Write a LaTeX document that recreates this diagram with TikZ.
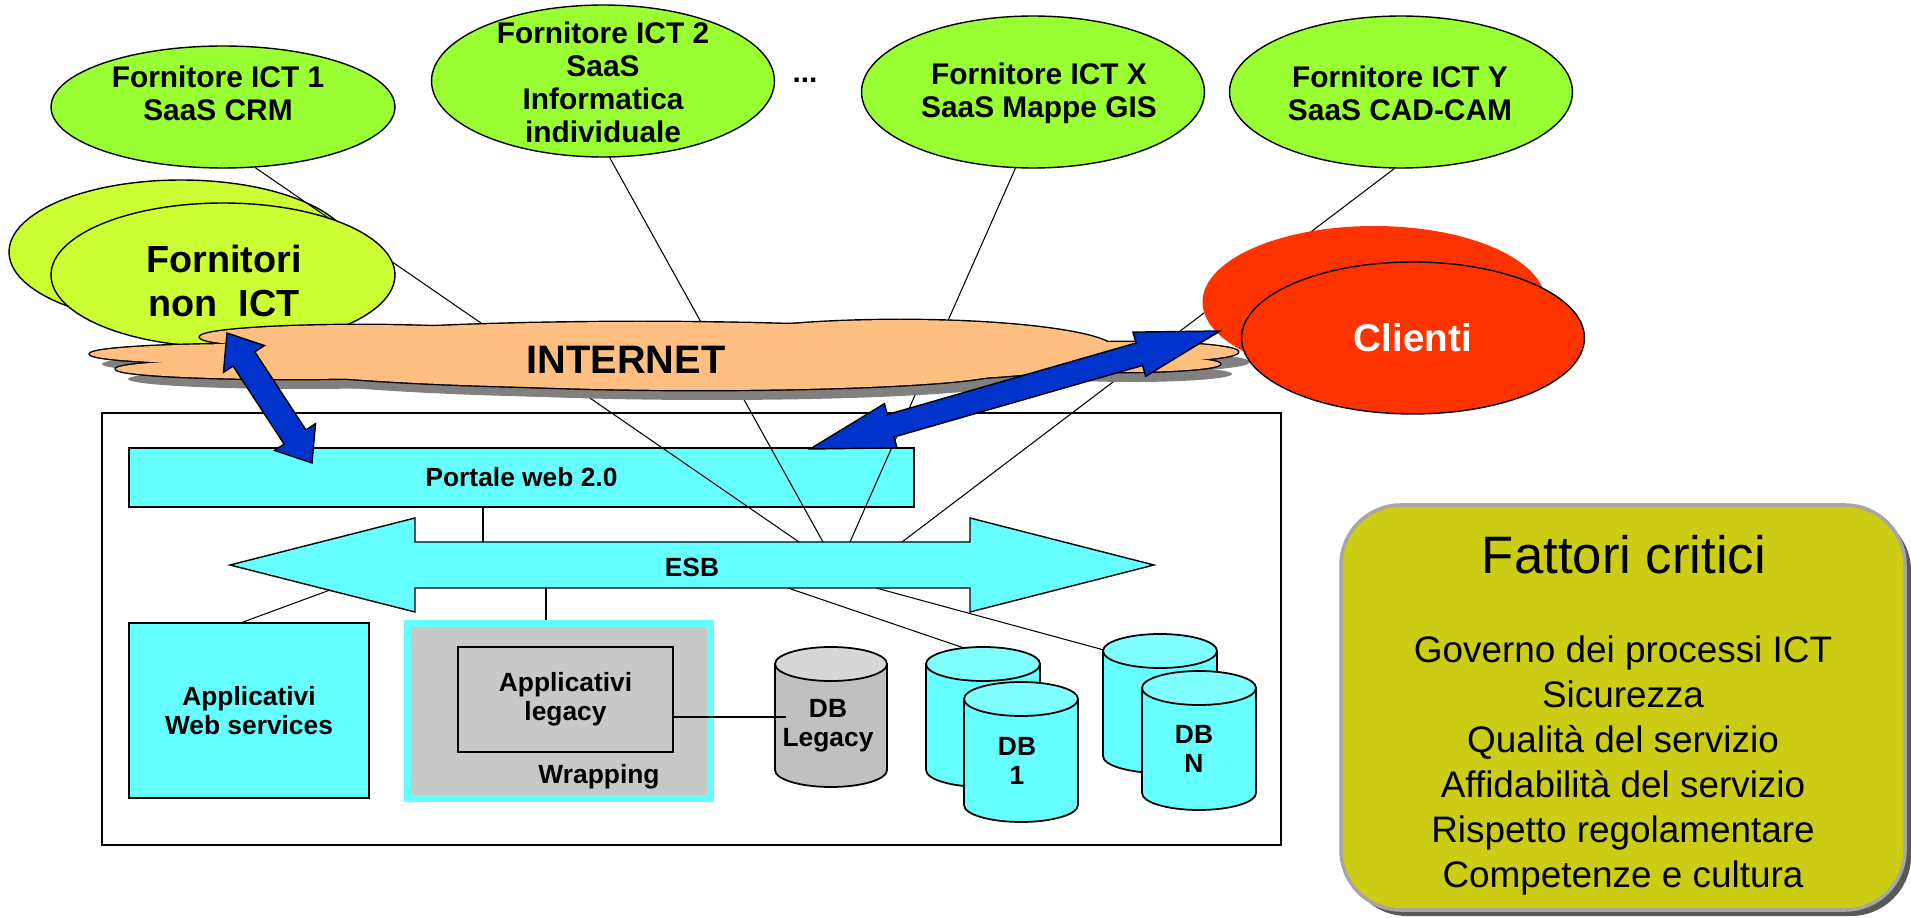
\documentclass[tikz,border=0pt]{standalone}
\usepackage{fontspec}
\setmainfont{Liberation Sans}
\usetikzlibrary{calc,shapes.geometric}

\definecolor{ictgreen}{RGB}{153,255,51}
\definecolor{forngreen}{RGB}{204,255,51}
\definecolor{clientired}{RGB}{255,51,0}
\definecolor{netpeach}{RGB}{255,191,128}
\definecolor{netshadow}{RGB}{128,128,128}
\definecolor{esbcyan}{RGB}{102,255,255}
\definecolor{cyltop}{RGB}{128,255,255}
\definecolor{wrapgray}{RGB}{200,200,200}
\definecolor{dbgray}{RGB}{192,192,192}
\definecolor{dbgraytop}{RGB}{215,215,215}
\definecolor{arrowblue}{RGB}{0,51,204}
\definecolor{fattorifill}{RGB}{204,204,20}

% database cylinder: name, left x, width, top y, bottom y, body colour, top colour
\newcommand{\dbcyl}[7]{%
\filldraw[cylline, fill=#6] (#2,#4+17) -- (#2,#5-17) arc[start angle=180, end angle=0, x radius=#3/2, y radius=17] -- (#2+#3,#4+17) -- cycle;
\filldraw[cylline, fill=#7] (#2+#3/2,#4+17) ellipse[x radius=#3/2, y radius=17];
\coordinate (#1) at (#2+#3/2,#4);}

% double block arrow between two tips: head length, head half width, shaft half width
\newcommand{\blockarrow}[5]{%
\coordinate (ha) at ($(#1)!#3!(#2)$);
\coordinate (hb) at ($(#2)!#3!(#1)$);
\draw[bluearrow] (#1) -- ($(ha)!#4!90:(#2)$) -- ($(ha)!#5!90:(#2)$) -- ($(hb)!#5!-90:(#1)$) -- ($(hb)!#4!-90:(#1)$) -- (#2)
  -- ($(hb)!#4!90:(#1)$) -- ($(hb)!#5!90:(#1)$) -- ($(ha)!#5!-90:(#2)$) -- ($(ha)!#4!-90:(#2)$) -- cycle;}

% lobes of the internet cloud: x/y/x radius/y radius
\newcommand{\netlobes}{250/354/160/10, 290/369/174/10, 360/337/160/12, 640/355/420/33, 900/350/215/30, 700/372/300/18, 1130/352/108/10, 1120/364/100/8}

\tikzset{
  conn/.style={line width=0.6pt},
  ictell/.style={ellipse, draw, line width=0.8pt, fill=ictgreen, inner sep=0pt, minimum width=6.86cm, minimum height=3.04cm},
  fornell/.style={ellipse, draw, line width=0.8pt, fill=forngreen, inner sep=0pt, minimum width=6.88cm, minimum height=2.88cm},
  ictlbl/.style={font=\bfseries\fontsize{17}{18.8}\selectfont, align=center, inner sep=0pt},
  boxlbl/.style={font=\bfseries\fontsize{15}{16.5}\selectfont, align=center, inner sep=0pt},
  cyanbox/.style={draw, line width=0.8pt, fill=esbcyan, inner sep=0pt},
  cylline/.style={line width=1pt},
  bluearrow/.style={draw, line width=0.8pt, fill=arrowblue, line join=miter},
  titlelbl/.style={font=\fontsize{30}{34}\selectfont, align=center, inner sep=0pt},
  listlbl/.style={font=\fontsize{21}{25.6}\selectfont, align=center, inner sep=0pt},
}

\begin{document}
\begin{tikzpicture}[x=0.02cm, y=-0.02cm]
\useasboundingbox (0,0) rectangle (1911,918);
\fill[white] (0,0) rectangle (1911,918);

%system box
\node[draw, line width=0.8pt, inner sep=0pt, minimum width=23.58cm, minimum height=8.64cm] (sysbox) at (691.5,629) {};

%portal and bus
\node[cyanbox, boxlbl, minimum width=15.7cm, minimum height=1.18cm] (portale) at (521.5,477.5) {Portale web 2.0};
\draw[cyanbox] (230,565) -- (415,518) -- (415,542) -- (970,542) -- (970,518) -- (1154,565) -- (970,612) -- (970,588) -- (415,588) -- (415,612) -- cycle;
\node[boxlbl] (esb) at (692,567) {ESB};
\coordinate (esbp) at (483,542);
\coordinate (esbws) at (330,590);
\coordinate (esbwr) at (546,588);
\coordinate (esbd1) at (788,588);
\coordinate (esbdn) at (876,588);
\coordinate (esbt1) at (799,542);
\coordinate (esbt2) at (823,542);
\coordinate (esbt3) at (850,542);
\coordinate (esbt4) at (902,542);

%applications
\node[cyanbox, boxlbl, minimum width=4.8cm, minimum height=3.5cm] (apws) at (249,710.5) {Applicativi\\Web services};
\node[draw=esbcyan, line width=4pt, fill=wrapgray, inner sep=0pt, minimum width=6.06cm, minimum height=3.5cm] (wrap) at (559,711) {};
\node[draw, line width=0.8pt, fill=wrapgray, boxlbl, minimum width=4.3cm, minimum height=2.1cm] (applegacy) at (565.5,699.5) {Applicativi\\legacy};
\node[boxlbl] (wraplbl) at (599,777) {Wrapping};

%links to the bus
\coordinate (db1top) at (964,648);
\coordinate (dbntop) at (1104,650);
\coordinate (dblx) at (786,717);
\draw[conn] (portale.south -| esbp) -- (esbp);
\draw[conn] (esbws) -- ($(apws.north west)+(114,0)$);
\draw[conn] (esbwr) -- (esbwr |- wrap.north);
\draw[conn] (esbd1) -- (db1top);
\draw[conn] (esbdn) -- (dbntop);

%databases
\dbcyl{db1back}{926}{114}{647}{787}{esbcyan}{cyltop}
\dbcyl{db1}{964}{114}{682}{822}{esbcyan}{cyltop}
\dbcyl{dbnback}{1103}{114}{634}{773}{esbcyan}{cyltop}
\dbcyl{dbn}{1142}{114}{671}{810}{esbcyan}{cyltop}
\dbcyl{dbleg}{775}{112}{647}{787}{dbgray}{dbgraytop}
\draw[line width=0.8pt] (applegacy.east |- dblx) -- (dblx);
\node[boxlbl] (dbleglbl) at (828,726) {DB\\Legacy};
\node[boxlbl] (db1lbl) at (1017,761) {DB\\1};
\node[boxlbl] (dbnlbl) at (1194,749) {DB\\N};

%suppliers
\node[ictell, minimum width=6.88cm, minimum height=2.44cm] (ict1) at (223,107) {};
\node[ictell] (ict2) at (603,81) {};
\node[ictell] (ictx) at (1033,92) {};
\node[ictell] (icty) at (1401,92) {};
\node[fornell] (fornback) at (181,252) {};
\draw[conn] (ict1.-62) -- (esbt1);
\draw[conn] (ict2.-85) -- (esbt2);
\draw[conn] (ictx.-103) -- (esbt3);
\draw[conn] (icty.-95) -- (esbt4);
\node[fornell] (forn) at (223,275) {};
\node[ellipse, fill=clientired, inner sep=0pt, minimum width=6.86cm, minimum height=3.04cm] (clientiback) at (1374,302) {};

%internet cloud
\foreach \cx/\cy/\rx/\ry in \netlobes
  \fill[netshadow] (\cx+12,\cy+10) ellipse[x radius=\rx, y radius=\ry];
\foreach \cx/\cy/\rx/\ry in \netlobes
  \draw[line width=1.6pt, fill=netpeach] (\cx,\cy) ellipse[x radius=\rx, y radius=\ry];
\foreach \cx/\cy/\rx/\ry in \netlobes
  \fill[netpeach] (\cx,\cy) ellipse[x radius=\rx, y radius=\ry];
\node[font=\bfseries\fontsize{22.6}{26}\selectfont] (internet) at (626,360) {INTERNET};

\node[ellipse, draw, line width=0.8pt, fill=clientired, inner sep=0pt, minimum width=6.86cm, minimum height=3.04cm, text=white, font=\bfseries\fontsize{22}{26}\selectfont] (clienti) at (1413,338) {Clienti};

%labels
\node[ictlbl] (ict1lbl) at (218,93) {Fornitore ICT 1\\SaaS CRM};
\node[ictlbl] (ict2lbl) at (603,82) {Fornitore ICT 2\\SaaS\\Informatica\\individuale};
\node[ictlbl] (ictxlbl) at (1039,93) {Fornitore ICT X\\SaaS Mappe GIS};
\node[ictlbl] (ictylbl) at (1400,93) {Fornitore ICT Y\\SaaS CAD-CAM};
\node[ictlbl] (dots) at (805,80) {...};
\node[font=\bfseries\fontsize{21.5}{25}\selectfont, align=center, inner sep=0pt] (fornlbl) at (224,281) {Fornitori\\non~ ICT};

%access arrows
\coordinate (fornarrow) at (227,333);
\coordinate (portarrowa) at (312,463);
\blockarrow{fornarrow}{portarrowa}{0.62cm}{0.49cm}{0.26cm}
\coordinate (portarrowb) at (810,449);
\coordinate (cliarrow) at (1220,331);
\blockarrow{portarrowb}{cliarrow}{1.68cm}{0.46cm}{0.234cm}

%critical factors
\fill[black!65, rounded corners=1.2cm] (1347,511) rectangle (1911,916);
\draw[gray!70, line width=2pt, fill=fattorifill, rounded corners=1.2cm] (1341,505) rectangle (1905,910);
\node[titlelbl] (fattori) at (1624,555) {Fattori critici};
\node[listlbl] (factors) at (1623,765.5) {Governo dei processi ICT\\Sicurezza\\Qualità del servizio\\Affidabilità del servizio\\Rispetto regolamentare\\Competenze e cultura};
\end{tikzpicture}
\end{document}
